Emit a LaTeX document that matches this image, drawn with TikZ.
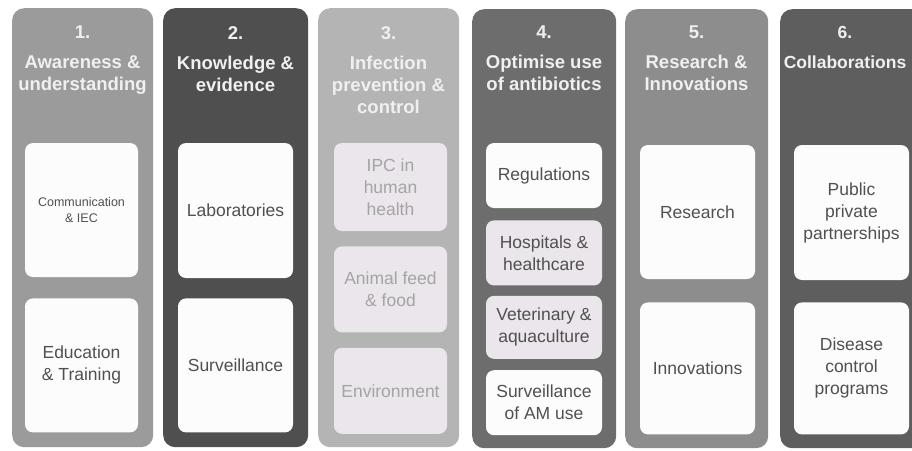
\documentclass[tikz,border=0pt]{standalone}
\usepackage{fontspec}
\setmainfont{Liberation Sans}
\usetikzlibrary{positioning}

\definecolor{awarecol}{HTML}{9B9B9B}
\definecolor{knowcol}{HTML}{4F4F4F}
\definecolor{infectcol}{HTML}{B4B4B4}
\definecolor{optcol}{HTML}{6D6D6D}
\definecolor{researchcol}{HTML}{8D8D8D}
\definecolor{collabcol}{HTML}{5E5E5E}
\definecolor{boxwhite}{HTML}{FCFCFC}
\definecolor{boxpink}{HTML}{EBE6EB}
\definecolor{boxtext}{HTML}{505050}
\definecolor{fadedtext}{HTML}{A4A4A4}

\begin{document}
\begin{tikzpicture}[
            x = 1pt,
            y = -1pt,
            pillar/.style = {rounded corners = 12pt, anchor = north west,
                inner sep = 0pt, minimum height = 439pt},
            heading/.style = {anchor = north, align = center, inner sep = 0pt,
                text = white!94!black,
                font = \bfseries\fontsize{18.5}{22}\selectfont},
            item/.style = {rounded corners = 8pt, fill = boxwhite, text = boxtext,
                align = center, inner sep = 0pt,
                font = \fontsize{17.5}{22}\selectfont},
            faded/.style = {item, fill = boxpink, text = fadedtext},
            tinted/.style = {item, fill = boxpink},
            node distance = 20pt
        ]
        \useasboundingbox (0,0) rectangle (912,450);
        \clip (0,0) rectangle (912,450);

        % pillars
        \node[pillar, fill = awarecol, minimum width = 141pt] (P1) at (12,8) {};
        \node[pillar, fill = knowcol, minimum width = 145pt] (P2) at (163,8) {};
        \node[pillar, fill = infectcol, minimum width = 141pt] (P3) at (318,8) {};
        \node[pillar, fill = optcol, minimum width = 144pt] (P4) at (472,9) {};
        \node[pillar, fill = researchcol, minimum width = 143pt] (P5) at (625,9) {};
        \node[pillar, fill = collabcol, minimum width = 145pt] (P6) at (780,9) {};

        % headings
        \node[heading] (H1) at (82.5,26) {1.\\[8pt]Awareness \&\\understanding};
        \node[heading] (H2) at (235.5,26) {2.\\[8pt]Knowledge \&\\evidence};
        \node[heading] (H3) at (388.5,26) {3.\\[8pt]Infection\\prevention \&\\control};
        \node[heading] (H4) at (544,26) {4.\\[8pt]Optimise use\\of antibiotics};
        \node[heading] (H5) at (696.5,26) {5.\\[8pt]Research \&\\Innovations};
        \node[heading, font = \bfseries\fontsize{17.5}{22}\selectfont] (H6) at (845,26) {6.\\[8pt]Collaborations};

        % 1. awareness
        \node[item, minimum width = 113pt, minimum height = 134pt,
            font = \fontsize{12.5}{16}\selectfont] (Comm) at (81.5,210) {Communication\\\& IEC};
        \node[item, minimum width = 113pt, minimum height = 134pt,
            below = 21pt of Comm] (Edu) {Education\\\& Training};

        % 2. knowledge
        \node[item, minimum width = 115pt, minimum height = 135pt] (Lab) at (235.5,210.5) {Laboratories};
        \node[item, minimum width = 115pt, minimum height = 134pt,
            below = 20pt of Lab] (Surv) {Surveillance};

        % 3. infection prevention
        \node[faded, minimum width = 113pt, minimum height = 88pt] (IPC) at (390.5,187) {IPC in\\human\\health};
        \node[faded, minimum width = 113pt, minimum height = 86pt,
            below = 15pt of IPC] (Feed) {Animal feed\\\& food};
        \node[faded, minimum width = 113pt, minimum height = 86pt,
            below = 15pt of Feed] (Env) {Environment};

        % 4. optimise use
        \node[item, minimum width = 116pt, minimum height = 65pt] (Reg) at (544,175.5) {Regulations};
        \node[tinted, minimum width = 116pt, minimum height = 65pt,
            below = 12pt of Reg] (Hosp) {Hospitals \&\\healthcare};
        \node[tinted, minimum width = 116pt, minimum height = 63pt,
            below = 10pt of Hosp] (Vet) {Veterinary \&\\aquaculture};
        \node[item, minimum width = 116pt, minimum height = 65pt,
            below = 11pt of Vet] (AMuse) {Surveillance\\of AM use};

        % 5. research
        \node[item, minimum width = 115pt, minimum height = 134pt] (Res) at (697.5,212) {Research};
        \node[item, minimum width = 115pt, minimum height = 132pt,
            below = 23pt of Res] (Innov) {Innovations};

        % 6. collaborations
        \node[item, minimum width = 115pt, minimum height = 135pt] (PPP) at (851.5,212.5) {Public\\private\\partnerships};
        \node[item, minimum width = 115pt, minimum height = 132pt,
            below = 22pt of PPP] (Dis) {Disease\\control\\programs};
    \end{tikzpicture}
\end{document}
